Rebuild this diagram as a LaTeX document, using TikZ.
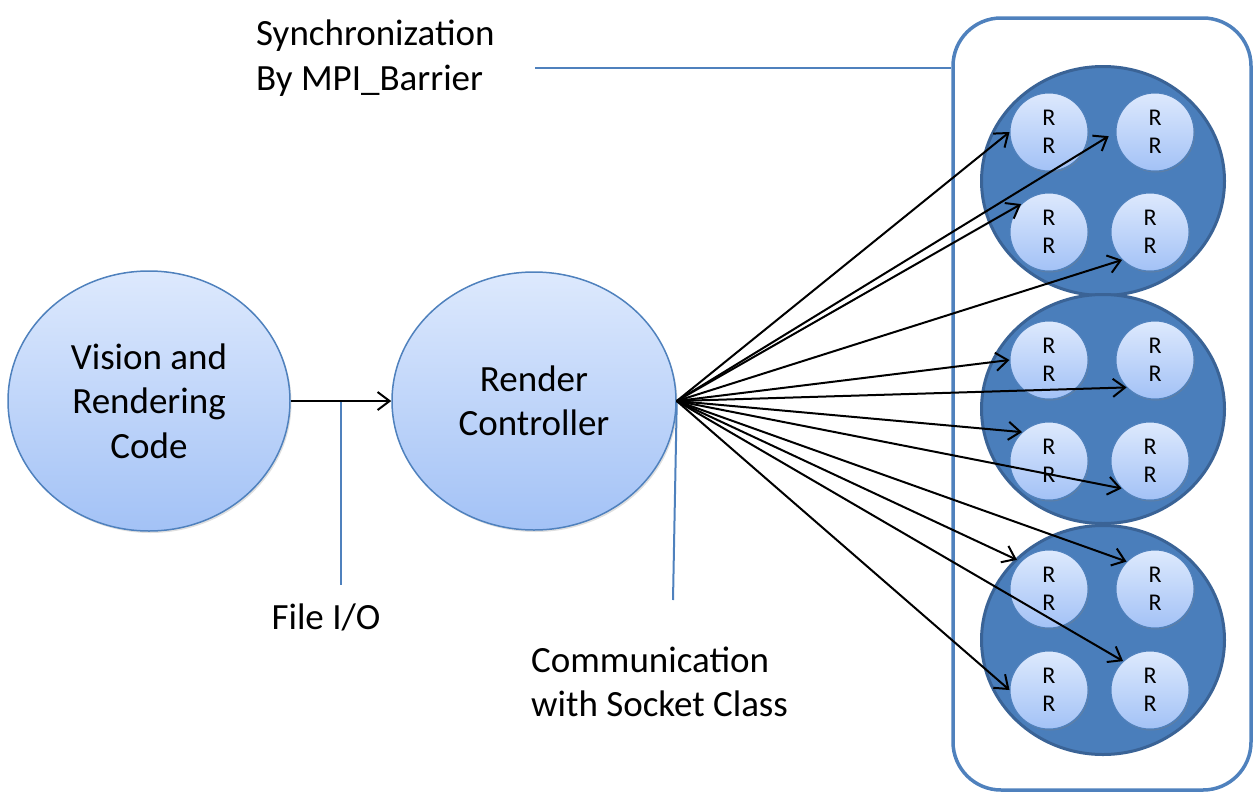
\documentclass[tikz,border=0pt]{standalone}
\usepackage{fontspec}
\setmainfont{Carlito}
\usetikzlibrary{shapes.geometric,arrows.meta,shadows,calc}
\definecolor{acc}{HTML}{4F81BD}
\definecolor{grpfill}{HTML}{4A7EBB}
\definecolor{accdark}{HTML}{3A6396}
\definecolor{lt}{HTML}{DDE9FD}
\definecolor{lb}{HTML}{A3C2F6}
\begin{document}
\begin{tikzpicture}[x=1pt,y=-1pt]
\tikzset{
  bigell/.style={ellipse, draw=acc, line width=1.5pt, top color=lt, bottom color=lb, inner sep=0pt, align=center, font=\fontsize{37}{44.5}\selectfont, drop shadow={shadow xshift=1.5pt, shadow yshift=-2pt, opacity=0.25}},
  grp/.style={ellipse, draw=accdark, line width=3pt, fill=grpfill, minimum width=243pt, minimum height=229pt, inner sep=0pt},
  rr/.style={circle, draw=acc, line width=1pt, top color=lt, bottom color=lb, minimum size=78pt, inner sep=0pt, align=center, drop shadow={shadow xshift=1pt, shadow yshift=-1.5pt, opacity=0.35}, font=\fontsize{24}{28.5}\selectfont},
  arr/.style={-{Straight Barb[length=12pt,width=18pt]}, line width=2pt},
  call/.style={draw=acc, line width=2pt},
  lbl/.style={font=\fontsize{37}{44.5}\selectfont, inner sep=0pt, align=left}}
\useasboundingbox (0,0) rectangle (1255,795);

% panel
\node[draw=acc, line width=3.5pt, rounded corners=48pt, minimum width=298pt, minimum height=772pt, inner sep=0pt] (panel) at (1102,404) {};

% main ellipses
\node[bigell, minimum width=282pt, minimum height=260pt] (vis) at (149,401) {Vision and\\Rendering\\Code};
\node[bigell, minimum width=284pt, minimum height=258pt] (rc) at (534,401) {Render\\Controller};

% groups
\node[grp] (g1) at (1103,181) {};
\node[grp] (g2) at (1103,409) {};
\node[grp] (g3) at (1103,640) {};

% render nodes
\node[rr] (c11) at (1049,132) {R\\R};
\node[rr] (c12) at (1155,132) {R\\R};
\node[rr] (c13) at (1049,232) {R\\R};
\node[rr] (c14) at (1150,232) {R\\R};
\node[rr] (c21) at (1049,360) {R\\R};
\node[rr] (c22) at (1155,360) {R\\R};
\node[rr] (c23) at (1049,461) {R\\R};
\node[rr] (c24) at (1150,461) {R\\R};
\node[rr] (c31) at (1049,589) {R\\R};
\node[rr] (c32) at (1155,589) {R\\R};
\node[rr] (c33) at (1049,690) {R\\R};
\node[rr] (c34) at (1150,690) {R\\R};

% labels
\node[lbl, anchor=west] (sync) at (256,58) {Synchronization\\By MPI\_Barrier};
\node[lbl] (fio) at (326,617) {File I/O};
\node[lbl, anchor=west] (comm) at (531,682) {Communication\\with Socket Class};

% callout lines
\coordinate (s0) at (535,68);
\draw[call] (s0) -- (s0 -| panel.west);
\coordinate (f1) at (341,585);
\draw[call] (f1 |- vis.east) -- (f1);
\coordinate (k1) at (673,600);
\draw[call] (rc.east) -- (k1);

% arrows
\draw[arr] (vis.east) -- (rc.west);
\draw[arr] (rc.east) -- (c11.180);
\draw[arr, shorten >=8pt] (rc.east) -- (c12.180);
\draw[arr] (rc.east) -- (c13.135);
\draw[arr] (rc.east) -- (c14.225);
\draw[arr] (rc.east) -- (c21.180);
\draw[arr] (rc.east) -- (c22.224);
\draw[arr] (rc.east) -- (c23.133);
\draw[arr] (rc.east) -- (c24.224);
\draw[arr, shorten >=4pt] (rc.east) -- (c31.136);
\draw[arr] (rc.east) -- (c32.136);
\draw[arr] (rc.east) -- (c33.180);
\draw[arr] (rc.east) -- (c34.133);
\end{tikzpicture}
\end{document}
